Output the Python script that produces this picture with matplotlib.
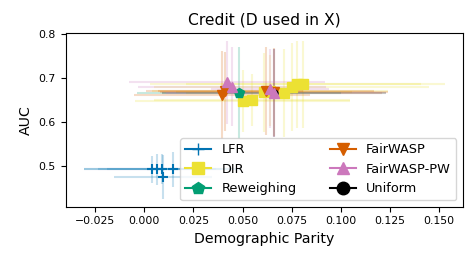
import matplotlib
matplotlib.use("Agg")
import matplotlib.pyplot as plt
from matplotlib.lines import Line2D

# points: DP, AUC and their spreads
lfr_x = [0.004, 0.0065, 0.009, 0.0095, 0.0148]
lfr_y = [0.493, 0.493, 0.494, 0.476, 0.493]
lfr_xerr = [0.035, 0.030, 0.040, 0.025, 0.034]
lfr_yerr = [0.030, 0.035, 0.035, 0.050, 0.040]

dir_x = [0.050, 0.055, 0.061, 0.064, 0.071, 0.075, 0.078, 0.081]
dir_y = [0.648, 0.651, 0.668, 0.672, 0.667, 0.680, 0.686, 0.686]
dir_xerr = [0.055, 0.050, 0.045, 0.060, 0.050, 0.070, 0.075, 0.060]
dir_yerr = [0.070, 0.060, 0.090, 0.080, 0.100, 0.100, 0.100, 0.100]

rw_x = [0.048]
rw_y = [0.666]
rw_xerr = [0.052]
rw_yerr = [0.105]

fw_x = [0.0395, 0.041, 0.062, 0.066]
fw_y = [0.663, 0.671, 0.672, 0.668]
fw_xerr = [0.045, 0.040, 0.055, 0.058]
fw_yerr = [0.100, 0.090, 0.100, 0.100]

fwpw_x = [0.042, 0.0445, 0.064, 0.066]
fwpw_y = [0.691, 0.681, 0.676, 0.667]
fwpw_xerr = [0.050, 0.048, 0.030, 0.055]
fwpw_yerr = [0.095, 0.090, 0.090, 0.100]

uni_x = [0.066]
uni_y = [0.667]
uni_xerr = [0.057]
uni_yerr = [0.100]

methods = [
    ("LFR", lfr_x, lfr_y, lfr_xerr, lfr_yerr, "#0173b2", "+"),
    ("DIR", dir_x, dir_y, dir_xerr, dir_yerr, "#ece133", "s"),
    ("Reweighing", rw_x, rw_y, rw_xerr, rw_yerr, "#029e73", "p"),
    ("FairWASP", fw_x, fw_y, fw_xerr, fw_yerr, "#d55e00", "v"),
    ("Uniform", uni_x, uni_y, uni_xerr, uni_yerr, "black", "o"),
    ("FairWASP-PW", fwpw_x, fwpw_y, fwpw_xerr, fwpw_yerr, "#cc78bc", "^"),
]
legend_order = ["LFR", "DIR", "Reweighing", "FairWASP", "FairWASP-PW", "Uniform"]

fig = plt.figure(figsize=(4.75, 2.59), dpi=100)
ax = fig.add_axes([0.138, 0.202, 0.836, 0.672])

handles = {}
for name, x, y, xe, ye, col, mk in methods:
    ax.errorbar(x, y, xerr=xe, yerr=ye, fmt="none", ecolor=col, alpha=0.22, lw=1.5)
for name, x, y, xe, ye, col, mk in methods:
    ms = 5 if mk == "o" else 7
    ax.plot(x, y, ls="", marker=mk, color=col, ms=ms, mew=1.5 if mk == "+" else 1)
    handles[name] = Line2D([], [], color=col, marker=mk, ms=9, lw=1.5)

ax.set_title("Credit (D used in X)", fontsize=11.2)
ax.set_xlabel("Demographic Parity", fontsize=10.2)
ax.set_ylabel("AUC", fontsize=10.2)
ax.tick_params(labelsize=7.8)
ax.set_xticks([-0.025, 0.0, 0.025, 0.05, 0.075, 0.1, 0.125, 0.15])
ax.set_yticks([0.5, 0.6, 0.7, 0.8])
ax.legend([handles[n] for n in legend_order], legend_order, loc="lower right",
          ncol=2, fontsize=9.3, borderaxespad=0.5, columnspacing=2.6,
          labelspacing=0.5)

fig.savefig("out.png", dpi=100)
